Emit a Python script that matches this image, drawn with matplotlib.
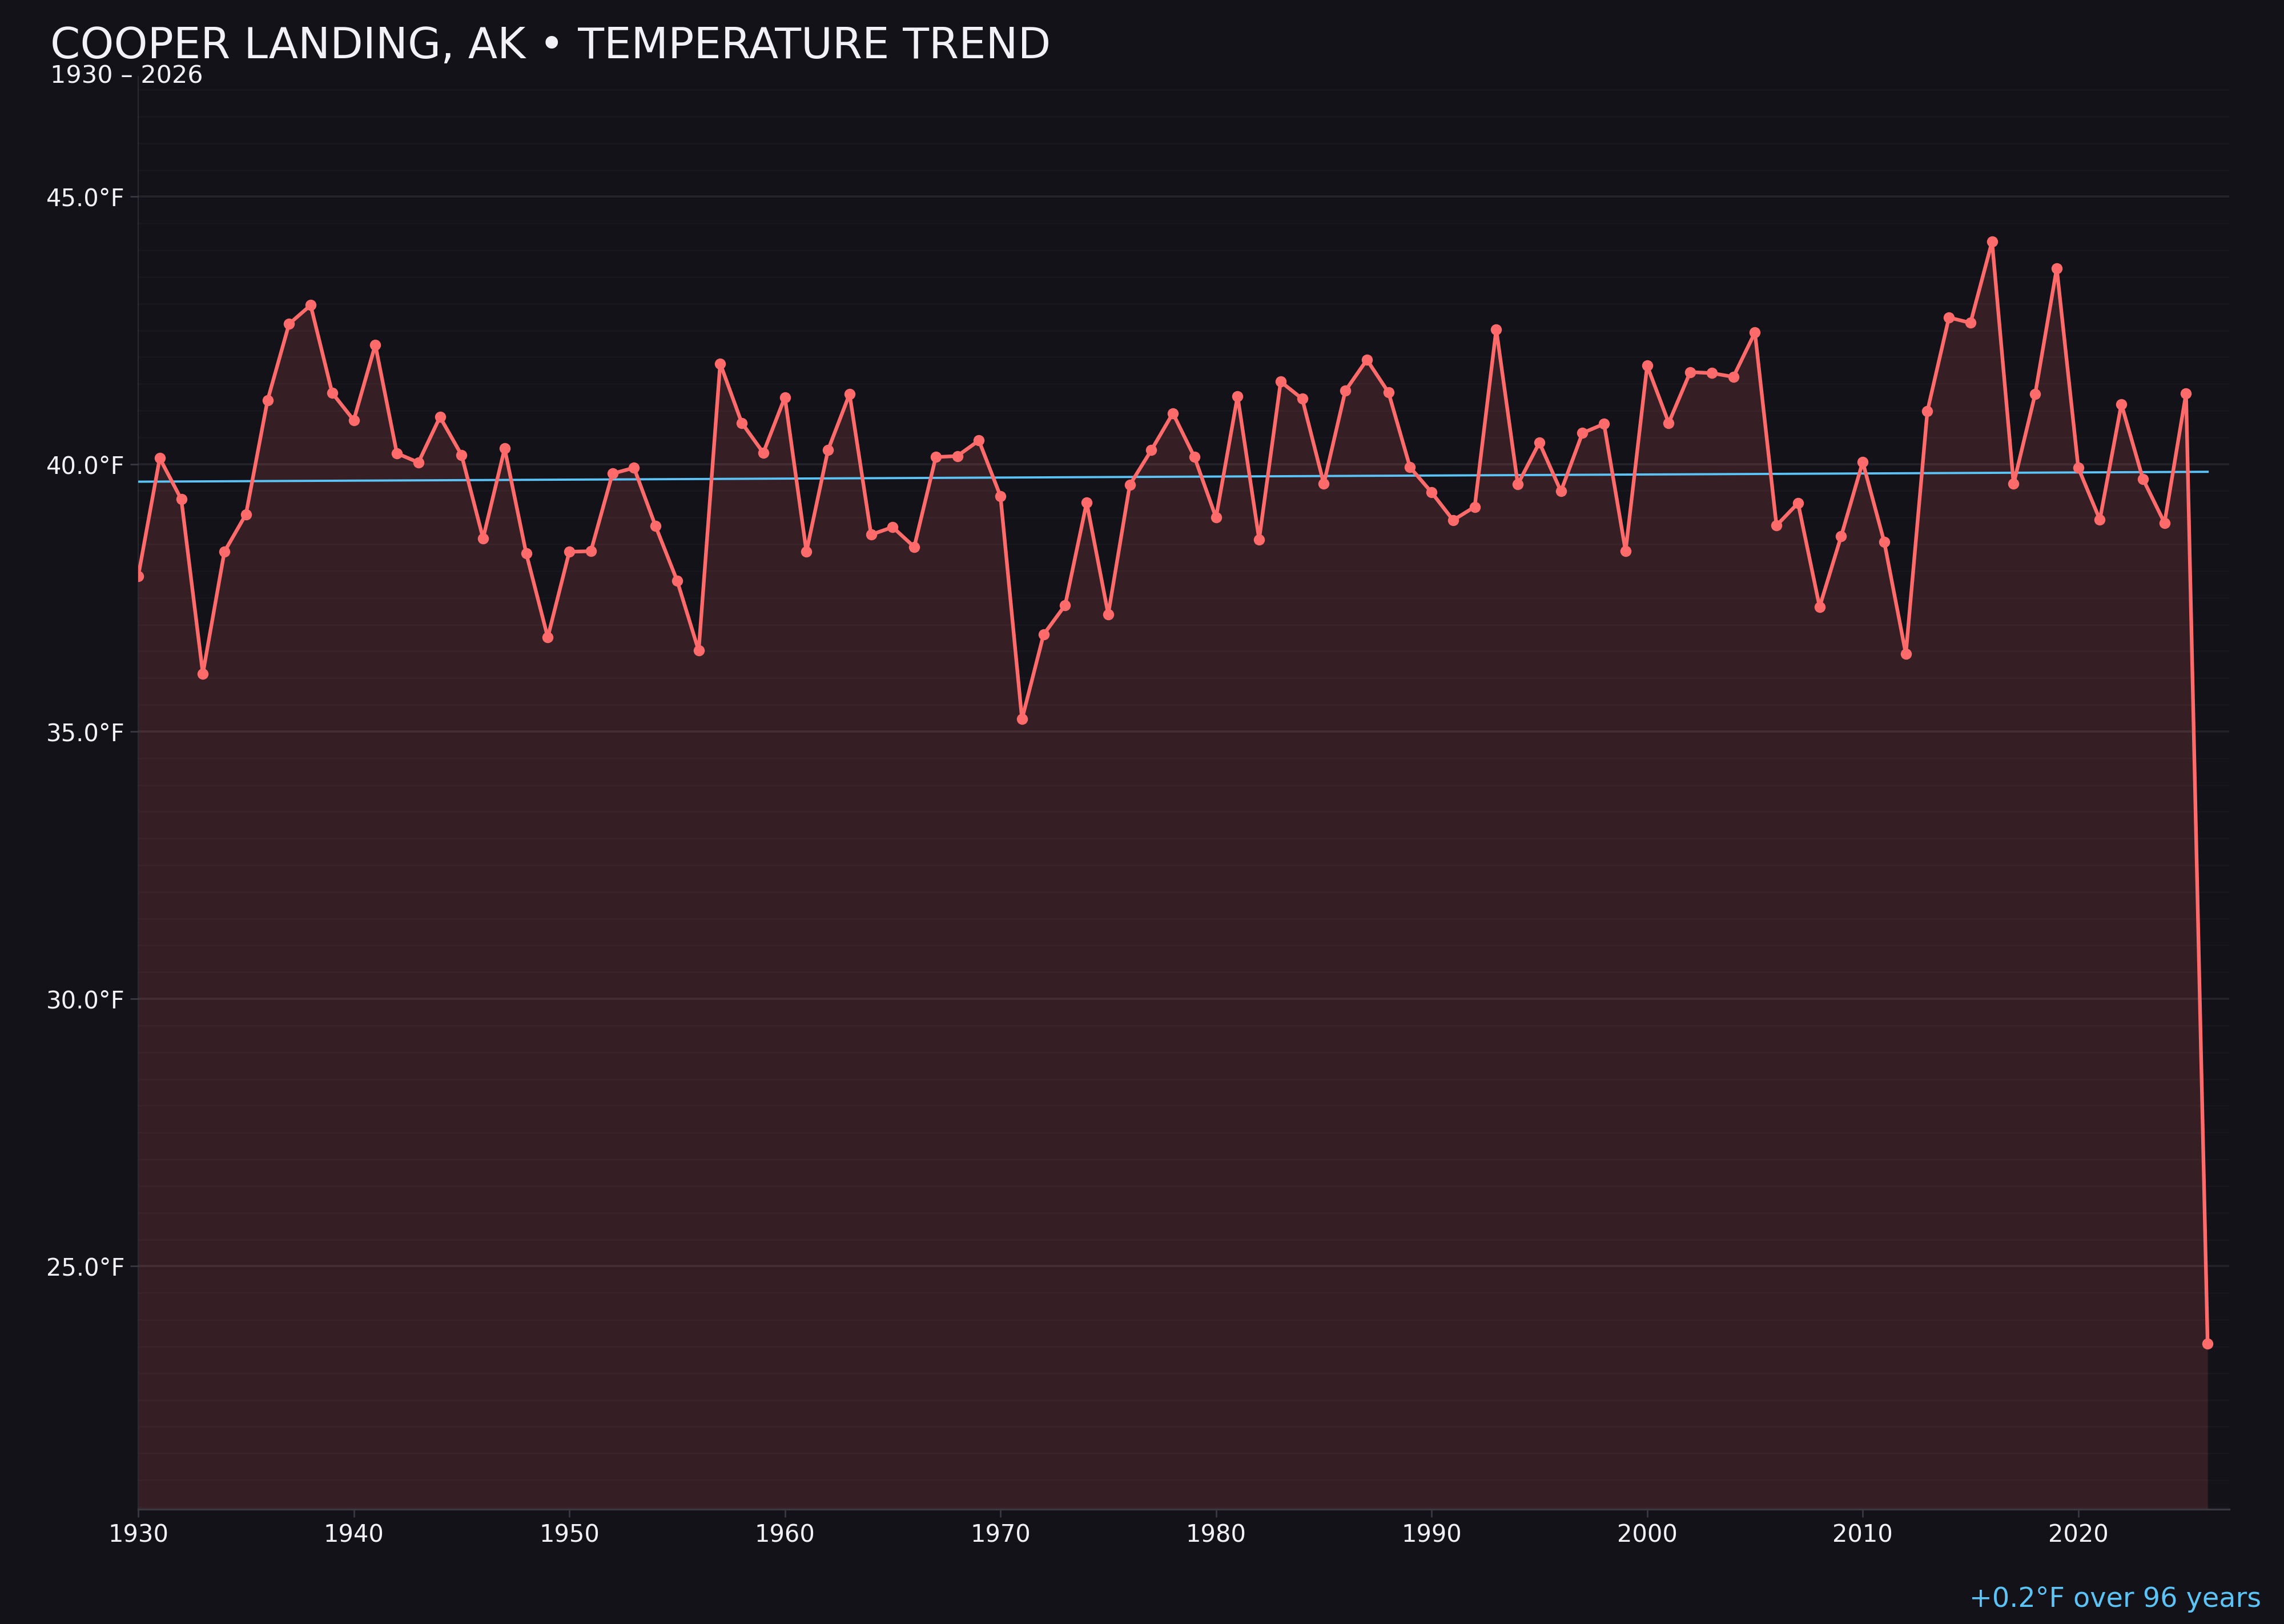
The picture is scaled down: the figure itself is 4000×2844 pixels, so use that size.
import numpy as np
import matplotlib
matplotlib.use("Agg")
import matplotlib.pyplot as plt
from matplotlib.ticker import MultipleLocator, FuncFormatter

years = np.arange(1930, 2027)
temps = [
    37.90, 40.11, 39.34, 36.08, 38.36, 39.06, 41.19, 42.62, 42.97, 41.33,  # 1930s
    40.82, 42.23, 40.20, 40.03, 40.88, 40.17, 38.61, 40.29, 38.33, 36.76,  # 1940s
    38.36, 38.37, 39.82, 39.93, 38.84, 37.82, 36.51, 41.88, 40.77, 40.21,  # 1950s
    41.25, 38.36, 40.26, 41.31, 38.68, 38.82, 38.45, 40.13, 40.15, 40.44,  # 1960s
    39.40, 35.23, 36.81, 37.36, 39.28, 37.19, 39.61, 40.26, 40.95, 40.13,  # 1970s
    39.00, 41.27, 38.59, 41.54, 41.22, 39.63, 41.37, 41.95, 41.34, 39.94,  # 1980s
    39.47, 38.95, 39.20, 42.52, 39.62, 40.40, 39.49, 40.58, 40.75, 38.37,  # 1990s
    41.84, 40.77, 41.72, 41.70, 41.63, 42.46, 38.85, 39.27, 37.33, 38.65,  # 2000s
    40.04, 38.54, 36.45, 40.99, 42.74, 42.64, 44.16, 39.63, 41.31, 43.66,  # 2010s
    39.93, 38.96, 41.12, 39.72, 38.90, 41.32, 23.55,                       # 2020s
]
temps = np.array(temps)

BG = "#131218"
RED = "#ff6b6b"
BLUE = "#5cc3f7"
TXT = "#f2f2f6"

slope, intercept = np.polyfit(years, temps, 1)
trend = slope * years + intercept
change = trend[-1] - trend[0]
span = years[-1] - years[0]

fig = plt.figure(figsize=(20, 14.22), dpi=200, facecolor=BG)
ax = fig.add_axes([0.0605, 0.0705, 0.9155, 0.8825])
ax.set_facecolor(BG)

ax.fill_between(years, temps, 20.45, color=RED, alpha=0.15, linewidth=0, zorder=1)
ax.plot(years, trend, color=BLUE, linewidth=1.4, zorder=3)
ax.plot(years, temps, color=RED, linewidth=2.3, marker="o", markersize=6, zorder=4)

ax.set_xlim(1930, 2027)
ax.set_ylim(20.45, 47.25)
ax.xaxis.set_major_locator(MultipleLocator(10))
ax.yaxis.set_major_locator(MultipleLocator(5))
ax.yaxis.set_minor_locator(MultipleLocator(0.5))
ax.yaxis.set_major_formatter(FuncFormatter(lambda v, p: f"{v:.1f}°F"))

ax.grid(axis="y", which="major", color="#ffffff", alpha=0.07, linewidth=1.3, zorder=2)
ax.grid(axis="y", which="minor", color="#ffffff", alpha=0.025, linewidth=1.0, zorder=2)
ax.set_axisbelow(False)

for s in ["top", "right"]:
    ax.spines[s].set_visible(False)
ax.spines["left"].set_color("#2a2930")
ax.spines["bottom"].set_color("#3a3942")
ax.spines["bottom"].set_linewidth(1.2)
ax.tick_params(axis="both", which="major", colors="#3a3942", labelcolor=TXT,
               labelsize=15, length=5, width=1)
ax.tick_params(axis="y", which="minor", length=0)

fig.text(0.022, 0.964, "COOPER LANDING, AK • TEMPERATURE TREND",
         color=TXT, fontsize=27, ha="left", va="baseline")
fig.text(0.022, 0.949, f"{years[0]} – {years[-1]}",
         color=TXT, fontsize=15.5, ha="left", va="baseline")
fig.text(0.99, 0.0105, f"{change:+.1f}°F over {span} years",
         color=BLUE, fontsize=17.2, ha="right", va="baseline")

fig.savefig("out.png", dpi=200, facecolor=BG)
